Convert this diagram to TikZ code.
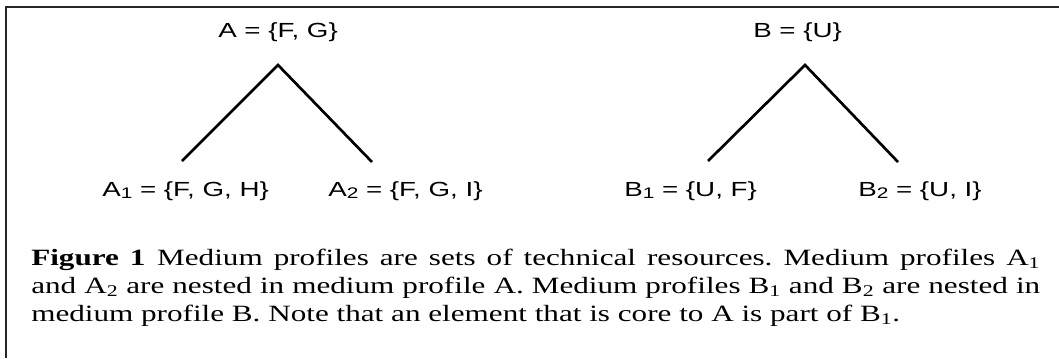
\documentclass[tikz,border=0pt]{standalone}
\usepackage{fontspec}
\setmainfont{Liberation Serif}[FakeStretch=1.335]
\newfontfamily\labelfont{Liberation Sans}[FakeStretch=1.36]
\usetikzlibrary{positioning}

\newcommand\lowidx[1]{\raisebox{-2.2pt}{\fontsize{11.5}{12}\selectfont #1}}

\begin{document}
\begin{tikzpicture}[x=0.75pt,y=-0.75pt,
  setlabel/.style={font=\labelfont\fontsize{15.3}{18}\selectfont,inner sep=0pt,anchor=base west},
  branch/.style={line width=2pt},
  frame/.style={line width=1.5pt,draw=black!85},
  caption/.style={font=\fontsize{17.5}{21}\selectfont\frenchspacing,inner sep=0pt,anchor=base west,
                  text width=756.75pt,align=justify}
]
  \useasboundingbox (0,0) rectangle (1059,358);
  \draw[frame] (6,358) -- (6,7) -- (1059,7);

  % tree A
  \node[setlabel] (topA) at (218,37) {A = \{F, G\}};
  \coordinate (apexA) at (278,65);
  \coordinate (endA1) at (182,161);
  \coordinate (endA2) at (372,162);
  \node[setlabel] (setA1) at (102,196) {A\lowidx{1} = \{F, G, H\}};
  \node[setlabel] (setA2) at (328,196) {A\lowidx{2} = \{F, G, I\}};
  \draw[branch] (endA1) -- (apexA) -- (endA2);

  % tree B
  \node[setlabel] (topB) at (753,37) {B = \{U\}};
  \coordinate (apexB) at (805,65);
  \coordinate (endB1) at (708,161);
  \coordinate (endB2) at (898,162);
  \node[setlabel] (setB1) at (624,196) {B\lowidx{1} = \{U, F\}};
  \node[setlabel] (setB2) at (858,196) {B\lowidx{2} = \{U, I\}};
  \draw[branch] (endB1) -- (apexB) -- (endB2);

  \node[caption] (cap) at (31,265)
    {\textbf{Figure 1}\enskip Medium profiles are sets of technical resources. Medium profiles A\textsubscript{1}\linebreak
     and A\textsubscript{2} are nested in medium profile A. Medium profiles B\textsubscript{1} and B\textsubscript{2} are nested in\linebreak
     medium profile B. Note that an element that is core to A is part of B\textsubscript{1}.};
\end{tikzpicture}
\end{document}
